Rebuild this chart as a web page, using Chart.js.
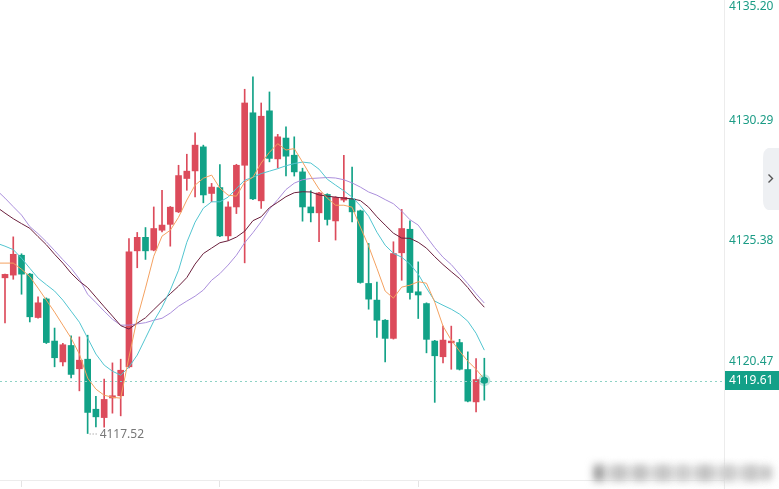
<!DOCTYPE html>
<html><head><meta charset="utf-8">
<script src="https://cdn.jsdelivr.net/npm/chart.js@4.4.1/dist/chart.umd.min.js"></script>
<style>html,body{margin:0;padding:0;background:#fff;overflow:hidden}#wrap{position:relative;width:779px;height:489px}</style>
</head><body><div id="wrap"><canvas id="c" width="779" height="489"></canvas></div>
<script>
// ---- data (candle index 0..58) ----
const opens=[4123.87,4123.98,4124.79,4124.02,4122.25,4123.01,4121.29,4120.44,4121.11,4120.16,
4120.55,4118.51,4118.17,4118.97,4119.06,4120.24,4124.97,4125.52,4125.00,4125.81,
4126.05,4126.56,4127.92,4128.23,4129.21,4127.31,4127.55,4125.58,4126.76,4128.46,
4130.60,4127.01,4130.68,4128.72,4129.57,4128.87,4128.19,4126.76,4126.52,4127.27,
4126.19,4127.04,4127.09,4126.60,4123.64,4122.96,4122.14,4121.40,4124.89,4125.85,
4123.30,4122.82,4121.29,4120.65,4121.22,4121.23,4120.13,4118.81,4119.76];
const closes=[4124.01,4124.83,4124.02,4122.28,4122.85,4121.23,4120.61,4121.14,4119.93,4120.51,
4118.38,4118.20,4118.91,4119.06,4120.10,4124.93,4125.52,4124.97,4125.88,4126.02,
4126.75,4128.04,4128.22,4129.28,4127.25,4127.57,4125.58,4126.76,4128.46,4131.00,
4127.09,4130.46,4128.74,4129.62,4128.83,4128.19,4126.76,4126.52,4127.33,4126.25,
4127.15,4127.15,4126.56,4123.68,4123.00,4122.14,4121.40,4124.86,4125.88,4123.27,
4123.17,4121.36,4120.69,4121.33,4121.29,4120.14,4118.84,4119.72,4119.61];
const highs=[4124.02,4125.54,4124.85,4124.05,4123.09,4123.05,4121.82,4121.20,4121.50,4121.46,
4121.53,4119.04,4119.74,4120.40,4120.55,4125.47,4125.72,4125.92,4126.76,4127.44,
4126.78,4128.46,4128.91,4129.78,4129.28,4127.72,4128.49,4126.97,4128.50,4131.56,
4132.07,4131.00,4131.45,4129.72,4130.03,4129.62,4128.34,4127.42,4127.36,4127.30,
4127.18,4128.87,4128.39,4126.63,4125.27,4123.70,4122.17,4125.34,4126.66,4126.19,
4124.52,4122.85,4121.32,4121.90,4121.90,4121.36,4120.85,4120.58,4120.59];
const lows=[4122.03,4123.81,4123.20,4122.07,4122.22,4121.19,4120.24,4120.28,4119.79,4119.26,
4117.52,4117.79,4117.78,4118.35,4118.24,4120.20,4124.28,4124.62,4124.97,4125.74,
4125.16,4126.53,4127.44,4127.17,4126.93,4126.97,4125.55,4125.41,4126.49,4124.48,
4127.06,4126.70,4128.60,4128.35,4128.03,4128.02,4126.18,4126.15,4125.34,4126.02,
4125.41,4126.97,4126.15,4123.65,4122.59,4121.44,4120.44,4121.37,4123.77,4123.00,
4122.21,4120.81,4118.79,4120.40,4120.14,4120.11,4118.81,4118.40,4118.88];
// moving averages, starting one bar before the first visible candle
const maStart=-1;
const ma5=[4124.47,4124.47,4124.47,4124.22,4123.92,4123.45,4122.96,4122.47,4121.94,4121.41,4120.76,
4119.78,4119.33,4119.08,4119.00,4118.96,4120.63,4122.22,4123.45,4124.75,4125.57,
4125.81,4126.34,4127.04,4127.65,4127.93,4128.06,4127.53,4127.24,4127.20,4127.77,
4127.97,4128.55,4128.99,4129.34,4129.08,4129.14,4128.59,4128.02,4127.49,4127.12,
4126.83,4126.83,4126.75,4125.94,4125.16,4124.26,4123.33,4123.04,4123.49,4123.57,
4123.71,4123.65,4122.88,4121.90,4121.33,4120.88,4120.47,4120.14,4119.74];
const ma10=[4125.28,4125.16,4125.02,4124.67,4124.26,4123.86,4123.59,4123.33,4122.96,4122.51,4122.06,
4121.41,4120.76,4120.31,4120.06,4119.90,4120.23,4120.72,4121.41,4122.10,4122.67,
4123.37,4124.18,4125.32,4126.14,4126.71,4126.97,4126.97,4127.16,4127.51,4127.85,
4127.97,4128.12,4128.22,4128.32,4128.44,4128.53,4128.59,4128.55,4128.30,4127.89,
4127.65,4127.42,4127.16,4126.81,4126.38,4125.73,4125.20,4124.87,4124.71,4124.43,
4124.02,4123.45,4122.92,4122.75,4122.59,4122.39,4122.10,4121.61,4120.92];
const ma20=[4126.75,4126.51,4126.28,4126.08,4125.89,4125.55,4125.22,4124.83,4124.47,4124.06,4123.73,
4123.47,4123.08,4122.69,4122.31,4121.92,4121.78,4122.02,4122.24,4122.57,4122.90,
4123.22,4123.53,4123.88,4124.43,4124.86,4125.08,4125.30,4125.38,4125.53,4125.77,
4126.20,4126.36,4126.73,4126.95,4127.18,4127.34,4127.38,4127.37,4127.25,4127.20,
4127.16,4127.12,4127.09,4127.02,4126.75,4126.36,4126.02,4125.69,4125.49,4125.48,
4125.32,4125.08,4124.73,4124.41,4124.12,4123.84,4123.47,4123.04,4122.67];
const ma30=[4127.44,4127.12,4126.77,4126.43,4125.96,4125.67,4125.34,4124.98,4124.61,4124.26,4123.82,
4123.20,4122.86,4122.51,4122.18,4121.94,4121.94,4121.99,4122.04,4122.14,4122.22,
4122.43,4122.71,4122.92,4123.12,4123.37,4123.77,4124.04,4124.39,4124.79,4125.30,
4125.71,4126.16,4126.67,4127.06,4127.47,4127.73,4127.87,4127.92,4127.94,4127.96,
4127.94,4127.87,4127.74,4127.57,4127.37,4127.24,4127.06,4126.89,4126.59,4126.24,
4126.02,4125.55,4125.10,4124.71,4124.41,4124.02,4123.63,4123.22,4122.84];
const yTicks=[4135.20,4130.29,4125.38,4120.47];
const lastPrice=4119.61;
const lowPrice=4117.52, lowIndex=10;
const xTickIdx=[2,26,50];

// ---- styles ----
const UP='#dc4b5b', DOWN='#12a287', TEAL_TXT='#1c9c86';
const idx=opens.map((_,i)=>i);
const col=idx.map(i=>closes[i]>=opens[i]?UP:DOWN);
const bodies=idx.map(i=>({x:i,y:[opens[i],closes[i]]}));
const wicks=idx.map(i=>({x:i,y:[lows[i],highs[i]]}));
const maData=arr=>arr.map((v,k)=>({x:k+maStart,y:v}));
const lineDs=(arr,c)=>({type:'line',data:maData(arr),borderColor:c,borderWidth:1,pointRadius:0,tension:0,order:0,fill:false});

const overlay={id:'ov',
 afterDraw(chart){
  const {ctx,chartArea:a,scales:{x,y}}=chart;
  ctx.save();
  // axis line extension
  ctx.strokeStyle='#ececec';ctx.lineWidth=1;
  ctx.beginPath();ctx.moveTo(a.right+0.5,a.bottom);ctx.lineTo(a.right+0.5,489);ctx.stroke();
  // price labels
  ctx.font='12px "Noto Sans","Open Sans",sans-serif';
  ctx.textBaseline='middle';ctx.textAlign='left';ctx.fillStyle=TEAL_TXT;
  yTicks.forEach(v=>{let py=y.getPixelForValue(v);py=Math.max(py,7);ctx.fillText(v.toFixed(2),a.right+5,py);});
  // current price line
  const py=y.getPixelForValue(lastPrice);
  const ly=Math.round(py)-0.5;
  ctx.strokeStyle='#8ed2c5';ctx.setLineDash([2,3]);
  ctx.beginPath();ctx.moveTo(a.left,ly);ctx.lineTo(a.right,ly);ctx.stroke();
  ctx.setLineDash([]);
  // price tag
  ctx.fillStyle='#13a088';ctx.fillRect(a.right+1,Math.round(py)-11,54,19);
  ctx.fillStyle='#ffffff';ctx.fillText(lastPrice.toFixed(2),a.right+5,Math.round(py)-1);
  // last dot
  const lx=x.getPixelForValue(idx.length-1);
  ctx.fillStyle='rgba(19,160,136,0.25)';ctx.beginPath();ctx.arc(lx,py-2,6,0,Math.PI*2);ctx.fill();
  ctx.fillStyle='#13a088';ctx.beginPath();ctx.arc(lx,py-2,3.5,0,Math.PI*2);ctx.fill();
  // low marker
  const lowX=x.getPixelForValue(lowIndex), lowY=y.getPixelForValue(lowPrice);
  ctx.strokeStyle='#888';ctx.setLineDash([1,2]);
  ctx.beginPath();ctx.moveTo(lowX+2,lowY+0.5);ctx.lineTo(lowX+11,lowY+0.5);ctx.stroke();
  ctx.setLineDash([]);
  ctx.fillStyle='#777';ctx.font='12px "Noto Sans","Open Sans",sans-serif';
  ctx.fillText(lowPrice.toFixed(2),lowX+12,lowY+1);
  // side tab with chevron
  ctx.fillStyle='#eef0f3';
  ctx.beginPath();ctx.moveTo(779,148);ctx.lineTo(768,148);ctx.quadraticCurveTo(763,150,763,158);
  ctx.lineTo(763,200);ctx.quadraticCurveTo(763,208,768,210);ctx.lineTo(779,210);ctx.closePath();ctx.fill();
  ctx.strokeStyle='#555';ctx.lineWidth=1.4;
  ctx.beginPath();ctx.moveTo(768.5,174.5);ctx.lineTo(772.5,178.5);ctx.lineTo(768.5,182.5);ctx.stroke();
  // blurred watermark strip
  ctx.filter='blur(4px)';
  ctx.fillStyle='#dcdcdc';ctx.fillRect(600,466,172,14);
  const blocks=[[594,465,9,16,'#8e8e8e'],[612,466,14,14,'#c2c2c2'],[634,466,12,14,'#bdbdbd'],[656,466,14,14,'#c4c4c4'],
   [678,466,10,14,'#c9c9c9'],[698,466,14,14,'#c0c0c0'],[722,466,12,14,'#c8c8c8'],[744,466,14,14,'#c6c6c6'],[762,468,8,10,'#bbbbbb']];
  blocks.forEach(b=>{ctx.fillStyle=b[4];ctx.fillRect(b[0],b[1],b[2],b[3]);});
  ctx.filter='none';
  ctx.restore();
 }};

new Chart(document.getElementById('c'),{
 type:'bar',
 data:{datasets:[
  lineDs(ma5,'#f4a160'),
  lineDs(ma10,'#52c5d0'),
  lineDs(ma20,'#6a1f3c'),
  lineDs(ma30,'#ab8fdc'),
  {type:'bar',data:wicks,backgroundColor:col,barThickness:1,grouped:false,order:2},
  {type:'bar',data:bodies,backgroundColor:col,barThickness:6,grouped:false,minBarLength:1,order:1}
 ]},
 options:{
  responsive:false,animation:false,
  layout:{padding:0},
  plugins:{legend:{display:false},tooltip:{enabled:false}},
  scales:{
   x:{type:'linear',min:-0.605,max:87.0,offset:false,
      grid:{display:true,offset:false,drawOnChartArea:false,drawTicks:true,tickLength:7,color:'#e4e4e4'},
      border:{display:true,color:'#ececec'},ticks:{display:false},
      afterBuildTicks:s=>{s.ticks=xTickIdx.map(v=>({value:v}));},
      afterFit:s=>{s.height=9;}},
   y:{type:'linear',position:'right',min:4115.624,max:4135.20,
      grid:{display:false},border:{display:true,color:'#ececec'},ticks:{display:false},
      afterBuildTicks:s=>{s.ticks=yTicks.map(v=>({value:v}));},
      afterFit:s=>{s.width=55;}}
  }
 },
 plugins:[overlay]
});
</script></body></html>
